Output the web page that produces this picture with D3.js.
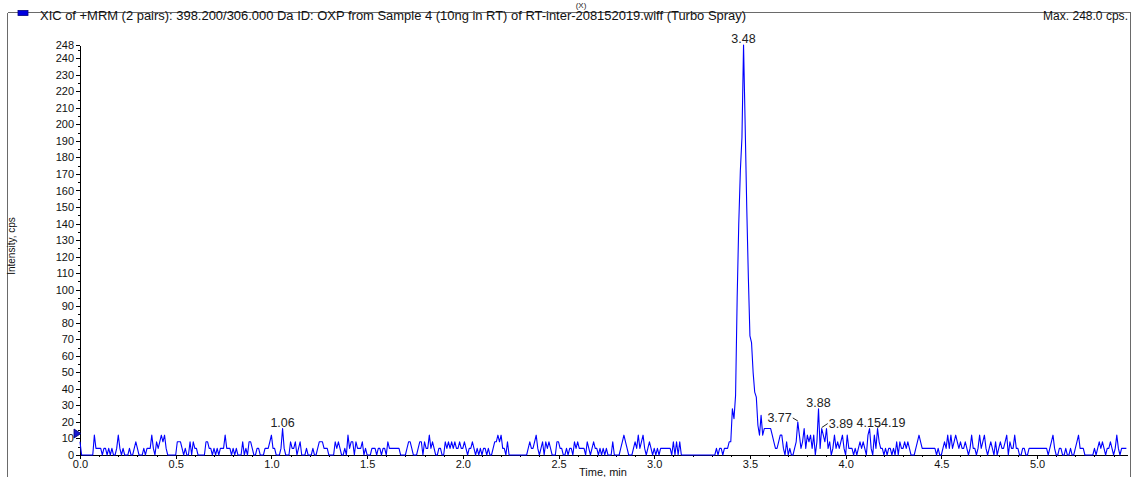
<!DOCTYPE html>
<meta charset="utf-8">
<style>

body {
    margin: 0;
    background: #fff;
}

svg {
    display: block;
    font-family: "Liberation Sans", Arial, sans-serif;
}

.frame line {
    stroke: #6a6a6a;
    stroke-width: 1px;
    shape-rendering: crispEdges;
}

.trace {
    fill: none;
    stroke: #0000ff;
    stroke-width: 1.1px;
    stroke-linejoin: round;
}

.axis path,
.axis line {
    stroke: #000;
    shape-rendering: crispEdges;
}

.axis text {
    font-size: 11px;
    fill: #111;
}

.peak-label {
    font-size: 12.5px;
    fill: #222;
}

.leader {
    stroke: #222;
    stroke-width: 1px;
}

</style>

<svg width="1138" height="477"></svg>
<script src="https://cdn.jsdelivr.net/npm/d3@7"></script>

<script>

// XIC trace, one value (cps) per scan, 0.5 s cycle
var intensity = [
    8,0,0,0,0,0,0,0,0,12, 4,4,4,4,0,4,4,0,4,0, 4,0,0,4,12,4,0,4,0,0,        // 0.00
    0,4,0,0,4,8,4,0,0,0, 4,0,4,4,4,12,4,0,8,4, 8,12,8,12,4,0,0,0,0,0,       // 0.25
    0,8,8,8,4,0,4,0,0,8, 0,8,4,4,0,0,0,0,0,8, 8,4,4,0,4,0,4,0,4,4,          // 0.50
    4,12,4,4,4,0,4,0,4,0, 0,0,8,0,4,0,8,8,4,0, 0,4,4,0,0,0,4,4,4,8,         // 0.75
    12,4,4,0,0,0,4,16,4,0, 0,0,8,4,4,8,0,4,8,0, 0,0,4,0,0,0,4,0,0,4,        // 1.00
    8,8,8,4,4,4,0,0,0,0, 8,4,8,4,0,0,4,0,12,4, 8,8,0,8,4,4,4,8,0,4,         // 1.25
    0,0,0,4,4,4,0,4,4,0, 4,4,0,8,4,4,4,4,4,4, 4,0,0,0,0,4,8,8,4,0,          // 1.50
    0,0,4,8,8,0,8,4,4,12, 4,8,4,0,0,4,4,0,0,8, 4,8,4,8,4,8,4,4,8,4,         // 1.75
    4,8,4,0,4,4,8,4,0,4, 0,4,0,4,4,0,4,0,0,4, 8,8,12,8,12,4,4,0,8,0,        // 2.00
    0,0,0,0,0,0,0,0,0,0, 0,4,8,4,4,8,12,4,0,4, 8,0,8,4,8,4,0,0,0,8,         // 2.25
    8,4,4,0,0,4,0,4,4,0, 8,4,8,4,4,4,4,0,8,4, 0,4,8,4,4,0,4,0,4,0,          // 2.50
    4,0,0,0,8,0,0,0,0,4, 8,12,8,4,0,0,0,4,8,4, 12,4,8,12,4,0,4,8,4,0,       // 2.75
    4,0,4,0,4,4,4,4,4,4, 4,0,8,0,8,0,8,0,0,0, 0,0,0,0,0,0,0,0,0,0,          // 3.00
    0,0,0,0,0,0,0,0,0,4, 0,4,4,0,4,4,4,8,8,28, 22,36,95,140,172,192,248,200,150,108, // 3.25
    72,68,50,38,35,18,12,24,12,16, 16,16,16,16,12,8,4,4,8,12, 12,4,0,8,0,4,0,0,4,8, // 3.50
    20,12,4,8,16,4,12,8,12,4, 12,0,8,28,4,16,12,8,16,4, 8,0,4,12,4,8,4,8,12,4,      // 3.75
    0,12,4,4,4,0,4,0,4,8, 4,8,4,0,12,16,4,0,12,4, 16,8,4,4,0,4,0,4,4,0,     // 4.00
    4,0,8,0,8,4,4,8,4,8, 4,0,0,0,4,8,12,8,4,4, 4,4,4,4,4,4,4,0,4,0,         // 4.25
    0,4,8,4,12,4,12,4,8,12, 8,4,8,4,4,8,4,0,4,12, 4,4,0,4,12,4,8,12,4,0,    // 4.50
    4,8,4,0,8,0,4,8,4,4, 8,12,0,8,4,4,12,4,4,0, 0,4,4,0,0,4,4,4,4,4,        // 4.75
    4,4,4,4,4,4,4,0,4,8, 12,4,0,0,4,4,0,0,4,0, 0,4,0,0,4,8,12,4,4,4,        // 5.00
    0,0,0,0,0,0,4,0,4,8, 4,8,4,0,4,4,8,4,0,4, 12,4,0,4,4,4,4                // 5.25
];
var cycleMin = 1 / 120;

// labelled apexes (scan index) and the text shown
var peakScans = [127, 416, 450, 463, 465, 495, 500];
var peakTexts = ["1.06", "3.48", "3.77", "3.88", "3.89", "4.15", "4.19"];

var yMajor = d3.range(0, 241, 10).concat([248]);
var yMinor = d3.range(5, 250, 10);
var xMajor = d3.range(0, 5.01, 0.5);
var xMinor = d3.range(0, 5.45, 0.1);

var titleText = "XIC of +MRM (2 pairs): 398.200/306.000 Da ID: OXP from Sample 4 (10ng in RT) of RT-inter-208152019.wiff (Turbo Spray)";
var maxText = "Max. 248.0 cps.";

var svg = d3.select("svg"),
    margin = {top: 45, right: 11, bottom: 22, left: 80},
    width = +svg.attr("width") - margin.left - margin.right,
    height = +svg.attr("height") - margin.top - margin.bottom;

var x = d3.scaleLinear()
    .domain([0, 5.47])
    .range([margin.left, margin.left + width]);

var y = d3.scaleLinear()
    .domain([0, 248])
    .range([margin.top + height, margin.top]);

// panel frame
var frame = svg.append("g").attr("class", "frame");
frame.append("line").attr("x1", 7.5).attr("y1", 12.5).attr("x2", 1130.5).attr("y2", 12.5);
frame.append("line").attr("x1", 7.5).attr("y1", 12.5).attr("x2", 7.5).attr("y2", 477);
frame.append("line").attr("x1", 1130.5).attr("y1", 12.5).attr("x2", 1130.5).attr("y2", 477);

// caption of the pane above
svg.append("text")
    .attr("x", 581).attr("y", 8)
    .attr("text-anchor", "middle")
    .style("font-size", "8px")
    .attr("fill", "#222")
    .text("(X)");

// header
svg.append("rect")
    .attr("x", 18).attr("y", 10.5)
    .attr("width", 10).attr("height", 5)
    .attr("fill", "#0000e0")
    .attr("stroke", "#000080")
    .attr("stroke-width", 0.8);

svg.append("text")
    .attr("x", 40).attr("y", 19.5)
    .attr("textLength", 706)
    .attr("lengthAdjust", "spacingAndGlyphs")
    .style("font-size", "12.5px")
    .attr("fill", "#111")
    .text(titleText);

svg.append("text")
    .attr("x", 1128).attr("y", 19.5)
    .attr("text-anchor", "end")
    .attr("textLength", 85)
    .attr("lengthAdjust", "spacingAndGlyphs")
    .style("font-size", "12.5px")
    .attr("fill", "#111")
    .text(maxText);

// axes
svg.append("g")
    .attr("class", "axis")
    .attr("transform", "translate(" + x(0) + ",0)")
    .call(d3.axisLeft(y).tickValues(yMajor).tickSize(4).tickSizeOuter(0).tickPadding(2));

svg.append("g")
    .attr("class", "axis minor")
    .attr("transform", "translate(" + x(0) + ",0)")
    .call(d3.axisLeft(y).tickValues(yMinor).tickSize(2).tickFormat(""))
    .select(".domain").remove();

svg.append("g")
    .attr("class", "axis")
    .attr("transform", "translate(0," + y(0) + ")")
    .call(d3.axisBottom(x).tickValues(xMajor).tickFormat(d3.format(".1f")).tickSize(4).tickSizeOuter(0).tickPadding(1));

svg.append("g")
    .attr("class", "axis minor")
    .attr("transform", "translate(0," + y(0) + ")")
    .call(d3.axisBottom(x).tickValues(xMinor).tickSize(2).tickFormat(""))
    .select(".domain").remove();

svg.append("text")
    .attr("x", 603).attr("y", 476)
    .attr("text-anchor", "middle")
    .style("font-size", "11px")
    .attr("fill", "#111")
    .text("Time, min");

svg.append("text")
    .attr("transform", "translate(15,246) rotate(-90)")
    .attr("text-anchor", "middle")
    .style("font-size", "10px")
    .attr("fill", "#111")
    .text("Intensity, cps");

// trace
var line = d3.line()
    .x(function(d, i) { return x(i * cycleMin); })
    .y(function(d) { return y(d); });

svg.append("path")
    .datum(intensity)
    .attr("class", "trace")
    .attr("d", line);

// threshold marker on the y axis
svg.append("path")
    .attr("d", "M" + (x(0) - 6) + "," + (y(13) - 4.5) + "L" + (x(0) + 1) + "," + y(13) + "L" + (x(0) - 6) + "," + (y(13) + 4.5) + "Z")
    .attr("fill", "#1a1acc")
    .attr("stroke", "#000070")
    .attr("stroke-width", 0.8);

// apex labels
var placement = {
    "3.77": {anchor: "end", dx: -6, dy: 0, lead: [-5, -4, 0, -1]},
    "3.89": {anchor: "start", dx: 7, dy: -1, lead: [0, -1, 6, -5]},
    "4.15": {anchor: "start", dx: -13, dy: -2},
    "4.19": {anchor: "start", dx: 3.5, dy: -2, lead: [0, -1, 3, -3]}
};

peakScans.forEach(function(s, k) {
    var px = x(s * cycleMin),
        py = y(intensity[s]),
        p = placement[peakTexts[k]] || {anchor: "middle", dx: 0, dy: -2};
    svg.append("text")
        .attr("class", "peak-label")
        .attr("x", px + p.dx)
        .attr("y", py + p.dy)
        .attr("text-anchor", p.anchor)
        .text(peakTexts[k]);
    if (p.lead) {
        svg.append("line")
            .attr("class", "leader")
            .attr("x1", px + p.lead[0]).attr("y1", py + p.lead[1])
            .attr("x2", px + p.lead[2]).attr("y2", py + p.lead[3]);
    }
});

</script>
